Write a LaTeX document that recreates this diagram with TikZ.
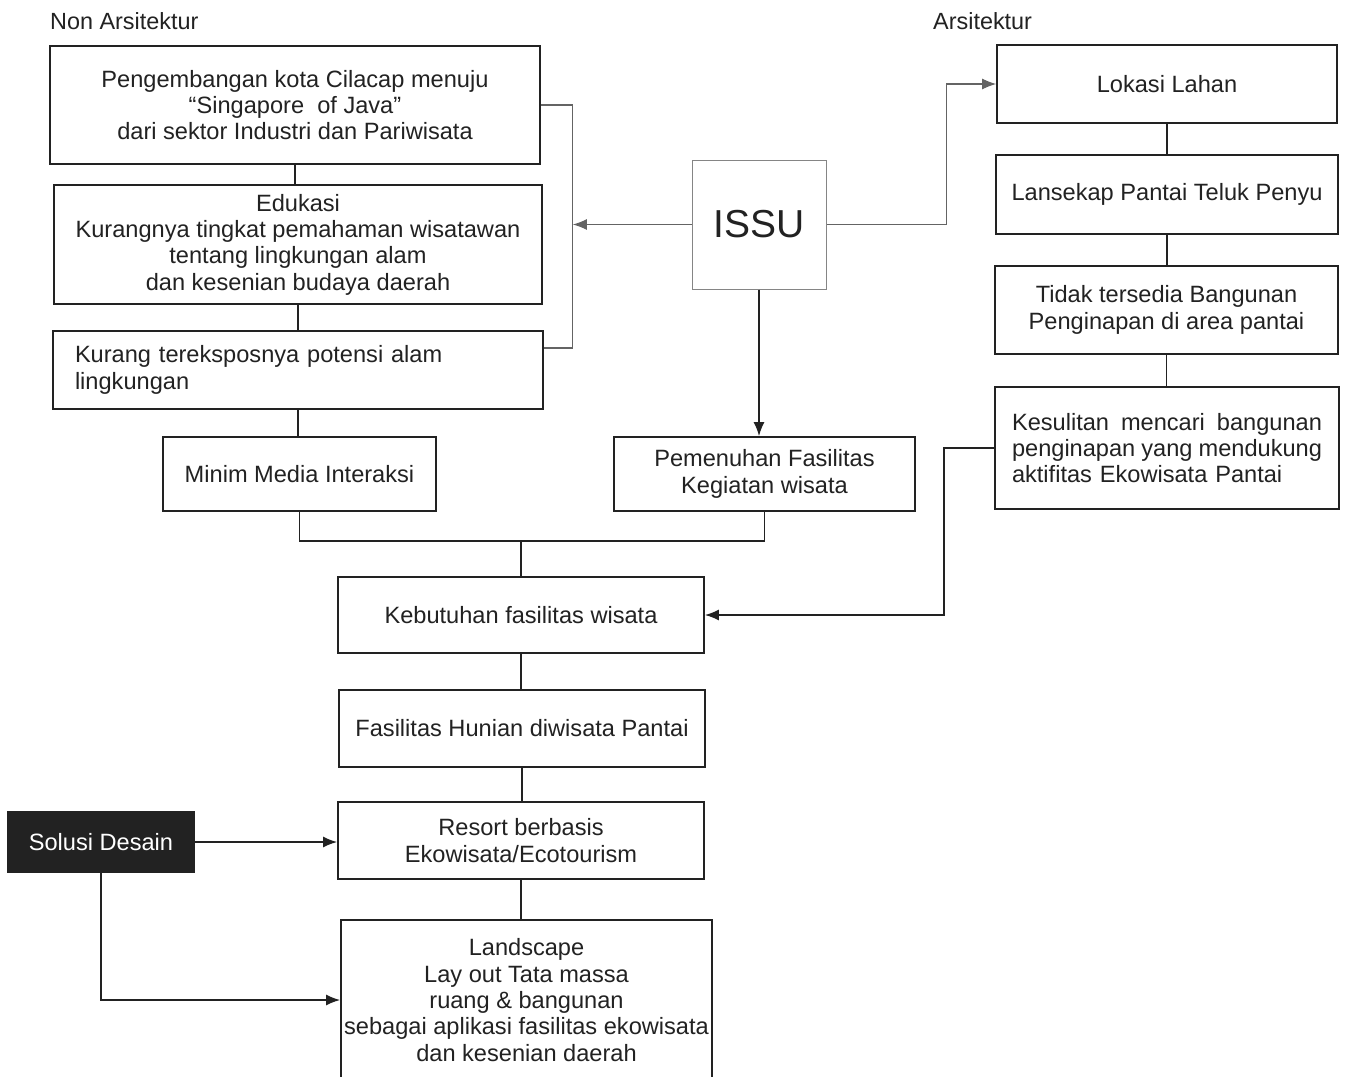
\documentclass[tikz,border=0pt]{standalone}
\usepackage{fontspec}
\setmainfont{Liberation Sans}
\usetikzlibrary{arrows.meta,calc}
\definecolor{ink}{HTML}{222222}
\begin{document}
\begin{tikzpicture}[x=1pt,y=-1pt,
  box/.style={draw=ink,line width=1.7pt,inner sep=0pt,align=center,text=ink,
    font=\fontsize{23.6}{26.4}\selectfont},
  lab/.style={inner sep=0pt,anchor=west,text=ink,font=\fontsize{23.4}{26}\selectfont},
  conn/.style={draw=ink,line width=1.6pt},
  thinc/.style={draw=ink!70,line width=1.1pt},
  arr/.style={-{Latex[length=14pt,width=11pt]}}]
\path[use as bounding box,fill=white] (0,0) rectangle (1346,1076);
\clip (0,0) rectangle (1346,1076);

\node[lab] (na) at (50,21) {Non Arsitektur};
\node[lab] (ar) at (933,21) {Arsitektur};

\node[box,minimum width=490pt,minimum height=118pt] (A) at (295,105)
  {Pengembangan kota Cilacap menuju\\``Singapore\ \ of Java''\\dari sektor Industri dan Pariwisata};
\node[box,minimum width=488pt,minimum height=119pt] (B) at (298,244.5)
  {Edukasi\\Kurangnya tingkat pemahaman wisatawan\\tentang lingkungan alam\\dan kesenian budaya daerah};
\node[box,minimum width=490pt,minimum height=78pt,text width=446pt,inner xsep=22pt,align=left] (C) at (298,370)
  {Kurang tereksposnya potensi alam\\lingkungan};
\node[box,minimum width=273pt,minimum height=74pt] (M) at (299.5,474) {Minim Media Interaksi};

\node[box,draw=ink!55,line width=1pt,minimum width=134pt,minimum height=129pt,
  font=\fontsize{39}{44}\selectfont] (I) at (759,224.5) {ISSU};
\node[box,minimum width=301pt,minimum height=74pt] (P) at (764.5,474)
  {Pemenuhan Fasilitas\\Kegiatan wisata};

\node[box,minimum width=340pt,minimum height=78pt] (L) at (1167,84) {Lokasi Lahan};
\node[box,minimum width=342pt,minimum height=79pt] (Ls) at (1167,194.5) {Lansekap Pantai Teluk Penyu};
\node[box,minimum width=343pt,minimum height=88pt] (T) at (1166.5,310)
  {Tidak tersedia Bangunan\\Penginapan di area pantai};
\node[box,minimum width=344pt,minimum height=122pt,text width=310pt,inner xsep=17pt,align=left] (K) at (1167,448)
  {\makebox[310pt][l]{Kesulitan\hfill mencari\hfill bangunan}\\\makebox[310pt][l]{penginapan\hfill yang\hfill mendukung}\\aktifitas Ekowisata Pantai};

\node[box,minimum width=366pt,minimum height=76pt] (Kb) at (521,615) {Kebutuhan fasilitas wisata};
\node[box,minimum width=366pt,minimum height=77pt] (H) at (522,728.5) {Fasilitas Hunian diwisata Pantai};
\node[box,minimum width=366pt,minimum height=77pt] (R) at (521,840.5) {Resort berbasis\\Ekowisata/Ecotourism};
\node[box,minimum width=371pt,minimum height=160pt] (Ld) at (526.5,1000)
  {Landscape\\Lay out Tata massa\\ruang \& bangunan\\sebagai aplikasi fasilitas ekowisata\\dan kesenian daerah};
\node[box,fill=ink,text=white,minimum width=186pt,minimum height=60pt] (S) at (101,842) {Solusi Desain};

% left column
\draw[conn] (A.south) -- (A.south |- B.north);
\draw[conn] (B.south) -- (B.south |- C.north);
\draw[conn] (C.south) -- (C.south |- M.north);
\draw[thinc] (A.east) -- ++(32,0) coordinate (br) |- ([yshift=22pt]C.east);
\draw[thinc,arr] (I.west) -- (I.west -| br);

% issu
\draw[conn,arr] (I.south) -- (I.south |- P.north);
\draw[thinc,arr] (I.east) -- ++(120,0) |- (L.west);

% right column
\draw[conn] (L.south) -- (L.south |- Ls.north);
\draw[conn] (Ls.south) -- (Ls.south |- T.north);
\draw[conn] (T.south) -- (T.south |- K.north);
\draw[conn,arr] (K.west) -- ++(-50,0) |- (Kb.east);

% join
\draw[conn] (M.south) -- ++(0,29) coordinate (j1) -| (P.south);
\draw[conn] (Kb.north |- j1) -- (Kb.north);

% central chain
\draw[conn] (Kb.south) -- (Kb.south |- H.north);
\draw[conn] (H.south) -- (H.south |- R.north);
\draw[conn] (R.south) -- (R.south |- Ld.north);

% solusi
\draw[conn,arr] (S.east) -- (S.east -| R.west);
\draw[conn,arr] (S.south) |- (Ld.west);
\end{tikzpicture}
\end{document}
